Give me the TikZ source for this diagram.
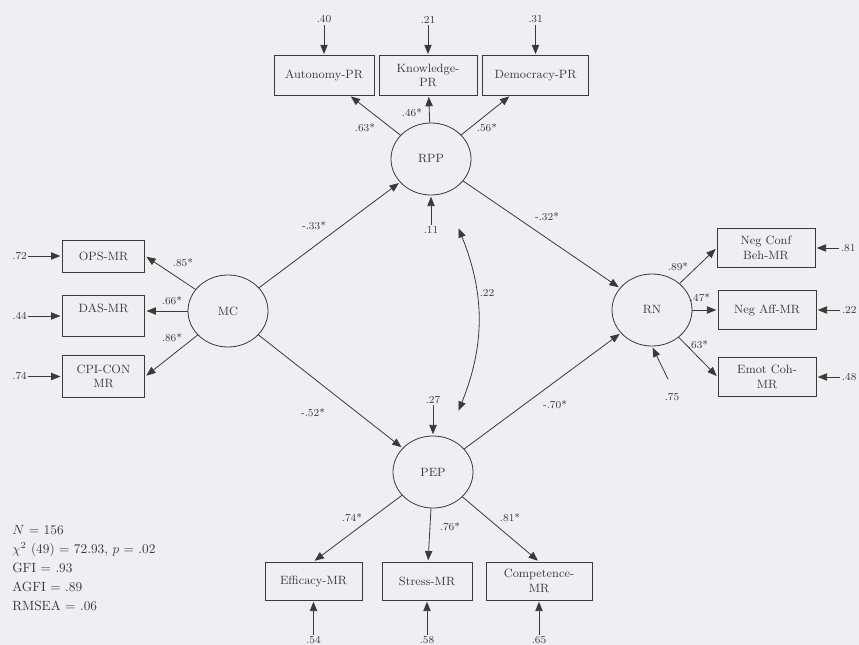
\documentclass[tikz,border=0pt]{standalone}
\usepackage{amsmath}
\usepackage{xcolor}
\usepackage{tikz}
\usetikzlibrary{arrows.meta}
\usetikzlibrary{shapes.geometric}
\usetikzlibrary{positioning}
\definecolor{paper}{RGB}{238,238,243}
\definecolor{ink}{RGB}{58,58,58}
\tikzset{
    basenode/.style = {align=center, inner sep=1pt, text centered, text=ink},
    latent/.style = {basenode, ellipse, draw=ink, minimum width=60pt, minimum height=54pt, font=\small, line width=0.6pt},
    indicator/.style = {basenode, rectangle, draw=ink, minimum height=29.5pt, font=\small, line width=0.6pt},
    errlab/.style = {basenode, font=\footnotesize},
    coef/.style = {basenode, font=\footnotesize},
    conn/.style = {->, draw=ink, line width=0.6pt, shorten >=1pt}
}

\begin{document}
\begin{tikzpicture}[x=0.75pt, y=-0.75pt, >={Triangle[length=7pt, width=5.5pt]}]
    \fill[paper] (0,0) rectangle (859,645);
    \useasboundingbox (0,0) rectangle (859,645);

    % latent variables
    \node [latent] (mc) at (228,311) {MC};
    \node [latent] (rpp) at (431,159) {RPP};
    \node [latent] (pep) at (433,472) {PEP};
    \node [latent] (rn) at (652,310) {RN};

    % indicators
    \node [indicator, minimum width=75pt] (aut) at (324,75.5) {Autonomy-PR};
    \node [indicator, minimum width=73.5pt] (know) at (428,75.5) {Knowledge-\\PR};
    \node [indicator, minimum width=80pt] (dem) at (535.5,75.5) {Democracy-PR};
    \node [indicator, minimum width=62pt, minimum height=24pt] (ops) at (103.5,256) {OPS-MR};
    \node [indicator, minimum width=62pt, minimum height=31pt] (das) at (103.5,316) {DAS-MR\\\mbox{}};
    \node [indicator, minimum width=62pt, minimum height=31pt] (cpi) at (103.5,376.5) {CPI-CON\\MR};
    \node [indicator, minimum width=73.5pt] (conf) at (766,248) {Neg Conf\\Beh-MR};
    \node [indicator, minimum width=73.5pt] (aff) at (767,310) {Neg Aff-MR};
    \node [indicator, minimum width=73.5pt] (coh) at (767,377) {Emot Coh-\\MR};
    \node [indicator, minimum width=72.75pt, minimum height=28.5pt] (eff) at (313.5,581) {Efficacy-MR};
    \node [indicator, minimum width=67.5pt, minimum height=28.5pt] (str) at (427,581) {Stress-MR};
    \node [indicator, minimum width=79.5pt, minimum height=28.5pt] (comp) at (539,581) {Competence-\\MR};

    % error terms
    \node [errlab, above=23pt of aut] (e_aut) {.40};
    \node [errlab, above=23pt of know] (e_know) {.21};
    \node [errlab, above=23pt of dem] (e_dem) {.31};
    \node [errlab, left=25pt of ops] (e_ops) {.72};
    \node [errlab, left=25pt of das] (e_das) {.44};
    \node [errlab, left=25pt of cpi] (e_cpi) {.74};
    \node [errlab, right=18pt of conf] (e_conf) {.81};
    \node [errlab, right=18pt of aff] (e_aff) {.22};
    \node [errlab, right=18pt of coh] (e_coh) {.48};
    \node [errlab, below=26pt of eff] (e_eff) {.54};
    \node [errlab, below=26pt of str] (e_str) {.58};
    \node [errlab, below=26pt of comp] (e_comp) {.65};
    \node [errlab, below=22pt of rpp] (e_rpp) {.11};
    \node [errlab, above=23pt of pep] (e_pep) {.27};
    \coordinate (rn_tail) at (668,379);
    \node [errlab] (e_rn) at (672,397) {.75};

    \foreach \e/\v in {e_aut/aut, e_know/know, e_dem/dem, e_ops/ops, e_das/das, e_cpi/cpi,
                       e_conf/conf, e_aff/aff, e_coh/coh, e_eff/eff, e_str/str, e_comp/comp,
                       e_rpp/rpp, e_pep/pep}
        \draw [conn] (\e) -- (\v);
    \draw [conn] (rn_tail) -- (rn.south);

    % loadings
    \draw [conn] (rpp) -- (aut);
    \draw [conn] (rpp) -- (know);
    \draw [conn] (rpp) -- (dem);
    \draw [conn] (mc) -- (ops.east);
    \draw [conn] (mc) -- (mc -| das.east);
    \draw [conn] (mc) -- (cpi.east);
    \draw [conn] (rn) -- (conf.west);
    \draw [conn] (rn) -- (aff.west);
    \draw [conn] (rn) -- (coh.west);
    \draw [conn] (pep) -- (eff.north);
    \draw [conn] (pep) -- (str);
    \draw [conn] (pep) -- (comp.north);

    \node [coef] (l_aut) at (365,128) {.63*};
    \node [coef] (l_know) at (412,113) {.46*};
    \node [coef] (l_dem) at (487,128) {.56*};
    \node [coef] (l_ops) at (183,263) {.85*};
    \node [coef] (l_das) at (172,301) {.66*};
    \node [coef] (l_cpi) at (172,338) {.86*};
    \node [coef] (l_conf) at (678,267) {.89*};
    \node [coef] (l_aff) at (700,298) {.47*};
    \node [coef] (l_coh) at (698,345) {.63*};
    \node [coef] (l_eff) at (352,518) {.74*};
    \node [coef] (l_str) at (450,527) {.76*};
    \node [coef] (l_comp) at (510,518) {.81*};

    % structural paths
    \draw [conn] (mc) -- (rpp);
    \draw [conn] (mc) -- (pep);
    \draw [conn] (rpp) -- (rn);
    \draw [conn] (pep) -- (rn);
    \node [coef] (b_mc_rpp) at (314,226) {-.33*};
    \node [coef] (b_mc_pep) at (313,413) {-.52*};
    \node [coef] (b_rpp_rn) at (547,217) {-.32*};
    \node [coef] (b_pep_rn) at (555,405) {-.70*};

    % covariance of disturbances
    \coordinate (cov_top) at (458,227);
    \coordinate (cov_bot) at (458,412);
    \draw [conn, <->, shorten <=1pt] (cov_top) to[bend left=22] (cov_bot);
    \node [coef] (r_cov) at (487,293) {.22};

    % fit indices
    \node [basenode, anchor=north west, align=left, inner sep=0pt, font=\fontsize{10}{14.25}\selectfont] (fit) at (12,525)
        {$N$ = 156\\$\chi^2$ (49) = 72.93, $p$ = .02\\GFI = .93\\AGFI = .89\\RMSEA = .06};
\end{tikzpicture}
\end{document}
